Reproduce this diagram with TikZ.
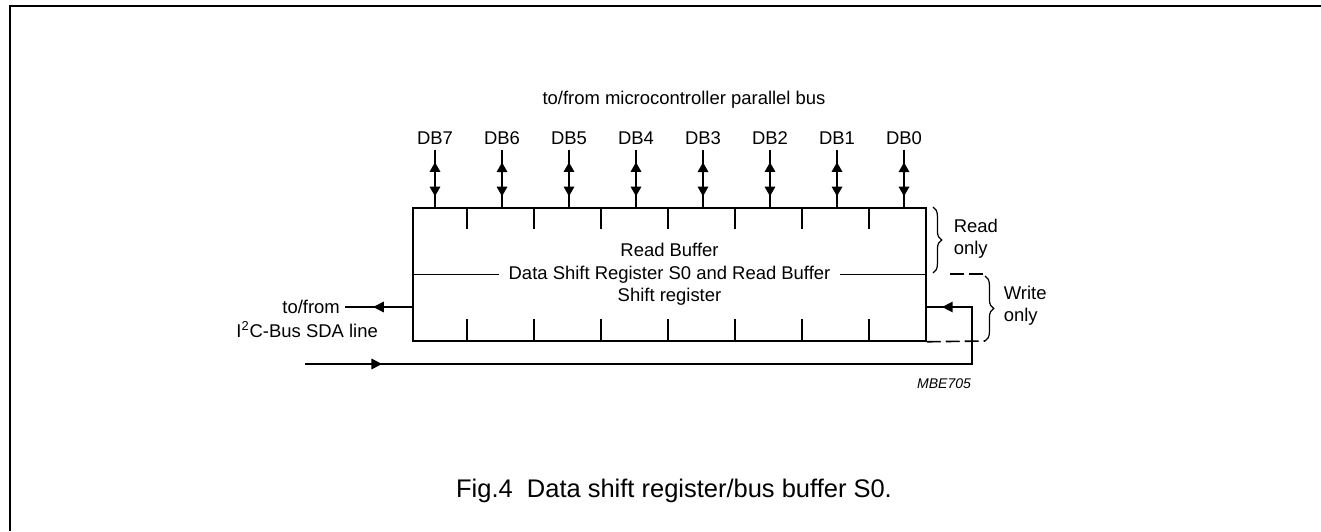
\documentclass[tikz,border=0pt]{standalone}
\usepackage{fontspec}
\setmainfont{Liberation Sans}
\usetikzlibrary{arrows.meta, positioning, decorations.markings, decorations.pathreplacing}

\begin{document}
\begin{tikzpicture}[x=0.02cm, y=-0.02cm, line width=0.9pt,
    lbl/.style={inner sep=2.5pt, font=\fontsize{10.5}{12.5}\selectfont},
    bus/.style={postaction={decorate}, decoration={markings,
        mark=at position 0.22 with {\arrowreversed{Triangle[length=5.5pt, width=6pt]}},
        mark=at position 0.81 with {\arrow{Triangle[length=5.5pt, width=6pt]}}}},
    sigleft/.style={postaction={decorate}, decoration={markings,
        mark=at position 0.58 with {\arrow{Triangle[length=6pt, width=6pt]}}}},
    feedback/.style={postaction={decorate}, decoration={markings,
        mark=at position 1.54cm with {\arrow{Triangle[length=6pt, width=6pt]}},
        mark=at position 15.08cm with {\arrow{Triangle[length=6pt, width=6pt]}}}},
    brc/.style={decorate, decoration={brace, amplitude=5pt}, line width=0.7pt},
    rangeline/.style={dash pattern=on 0.28cm off 0.1cm}]

    \useasboundingbox (0,0) rectangle (1321,531);
    % frame
    \draw[line width=1.2pt] (10,531) -- (10,6) -- (1321,6);

    % register box
    \node[draw, minimum width=10.26cm, minimum height=2.66cm, inner sep=0] (buf) at (669.5,274.5) {};
    \draw (buf.west) -- (buf.east);
    \node[lbl] (rbuf) at (669.5,250) {Read Buffer};
    \node[lbl, fill=white, inner xsep=0.2cm] (dsr) at (buf.center) {Data Shift Register S0 and Read Buffer};
    \node[lbl] (sreg) at (669.5,297) {Shift register};
    \foreach \x in {467,534,...,869} {
        \draw (\x,208) -- ++(0,21);
        \draw (\x,341) -- ++(0,-22);
    }

    % data bus
    \node[lbl] (pbus) at (684,100) {to/from microcontroller parallel bus};
    \foreach \n/\x in {7/435,6/502,5/569,4/636,3/703,2/770,1/837,0/904} {
        \node[lbl] (db\n) at (\x,138) {DB\n};
        \draw[bus] (db\n) -- (db\n |- buf.north);
    }

    % I2C side
    \node[lbl, anchor=east] (tofrom) at (345,307) {to/from};
    \node[lbl, anchor=east] (sda) at (383,330) {I\textsuperscript{2}C-Bus SDA line};
    \draw[sigleft] (buf.west |- tofrom) -- (tofrom.east);
    \coordinate (sdain) at (305,364);
    \coordinate (turn) at (972,364);
    \draw[feedback] (sdain) -- (turn) -- (turn |- 0,307) -- (buf.east |- 0,307);

    % read / write ranges
    \draw[brc] (933,207) -- (933,273);
    \draw[brc] (985,276) -- (985,341);
    \draw[rangeline] (950,274) -- (985,274);
    \draw[rangeline] (buf.south east) -- (985,341);
    \node[lbl, anchor=west, align=left, inner sep=0] (ronly) at (953,239) {Read\\only};
    \node[lbl, anchor=west, align=left, inner sep=0] (wonly) at (1003,306) {Write\\only};

    \node[inner sep=0, font=\fontsize{8}{9}\selectfont\itshape] (code) at (944,384) {MBE705};
    \node[inner sep=0, font=\fontsize{14.5}{17}\selectfont] (cap) at (674,491) {Fig.4\ \ Data shift register/bus buffer S0.};
\end{tikzpicture}
\end{document}
